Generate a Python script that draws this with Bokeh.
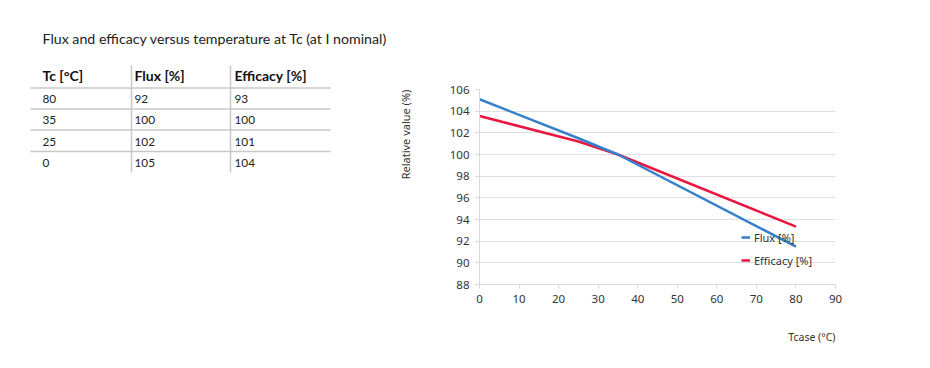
import math
from bokeh.plotting import figure
from bokeh.models import Range1d, Legend, LegendItem, Title, ColumnDataSource, FixedTicker
from bokeh.layouts import row, column
from bokeh.core.properties import value
from bokeh.embed import file_html
from bokeh.resources import INLINE

# ---- data ----
title_text = "Flux and efficacy versus temperature at Tc (at I nominal)"
table_header = ["Tc [°C]", "Flux [%]", "Efficacy [%]"]
table_tc = ["80", "35", "25", "0"]
table_flux = ["92", "100", "102", "105"]
table_eff = ["93", "100", "101", "104"]

tcase = [0, 25, 35, 80]
flux = [105.1, 101.5, 100, 91.5]
efficacy = [103.55, 101.2, 100, 93.35]
x_ticks = [0, 10, 20, 30, 40, 50, 60, 70, 80, 90]
y_ticks = [88, 90, 92, 94, 96, 98, 100, 102, 104, 106]

TABLE_FONT = "Lato"
CHART_FONT = "Noto Sans"

# ---- left: title + table (page-pixel coordinate frame) ----
LW, H = 418, 366
left = figure(width=LW, height=H, output_backend="svg", toolbar_location=None,
              x_range=Range1d(0, LW), y_range=Range1d(H, 0),
              min_border=0, outline_line_color=None)
left.axis.visible = False
left.grid.visible = False

left.text(x=[42], y=[38], text=[title_text], text_font=value(TABLE_FONT),
          text_font_size="14.2px", text_baseline="middle", text_color="#222222")

col_x = [42, 134, 234]
left.text(x=col_x, y=[75] * 3, text=table_header, text_font=value(TABLE_FONT),
          text_font_size="14px", text_font_style="bold", text_baseline="middle",
          text_color="#111111")
row_y = [98, 119, 141, 162]
for cx, col in zip(col_x, [table_tc, table_flux, table_eff]):
    left.text(x=[cx] * len(col), y=row_y, text=col, text_font=value(TABLE_FONT),
              text_font_size="11.8px", text_baseline="middle", text_color="#222222")

hl_y = [87.5, 108.5, 129.5, 151]
left.segment(x0=[30] * 4, x1=[330] * 4, y0=hl_y, y1=hl_y, line_color="#c8c8c8", line_width=1.5)
left.segment(x0=[131, 230], x1=[131, 230], y0=[65, 65], y1=[172, 172],
             line_color="#c8c8c8", line_width=1.5)

# y-axis label of chart
left.text(x=[405], y=[134], text=["Relative value (%)"], angle=math.pi / 2,
          text_font=value(CHART_FONT), text_font_size="11px", text_align="center",
          text_baseline="middle", text_color="#333333")

# ---- right: chart ----
RW = 922 - LW
p = figure(width=RW, height=H, output_backend="svg", toolbar_location=None,
           x_range=Range1d(0, 90), y_range=Range1d(88, 106),
           min_border_left=479 - LW, min_border_right=922 - 835,
           min_border_top=89, min_border_bottom=H - 286,
           outline_line_color=None)

src = ColumnDataSource(dict(t=tcase, flux=flux, eff=efficacy))
r_eff = p.line("t", "eff", source=src, line_color="#e8173f", line_width=2.5)
r_flux = p.line("t", "flux", source=src, line_color="#3580cc", line_width=2.5)

p.xaxis.ticker = FixedTicker(ticks=x_ticks)
p.yaxis.ticker = FixedTicker(ticks=y_ticks)
for ax in (p.xaxis, p.yaxis):
    ax.axis_line_color = "#d9d9d9"
    ax.major_tick_line_color = "#d9d9d9"
    ax.minor_tick_line_color = None
    ax.major_tick_in = 0
    ax.major_tick_out = 4
    ax.major_label_text_font = CHART_FONT
    ax.major_label_text_font_size = "11.5px"
    ax.major_label_text_color = "#333333"
p.xaxis.major_label_standoff = 6
p.yaxis.major_label_standoff = 6
p.xgrid.grid_line_color = None
p.ygrid.grid_line_color = "#e0e0e0"
p.ygrid.grid_line_width = 1

legend = Legend(items=[LegendItem(label="Flux [%]", renderers=[r_flux]),
                       LegendItem(label="Efficacy [%]", renderers=[r_eff])],
                location=(262, 14), orientation="vertical")
legend.background_fill_alpha = 0
legend.border_line_color = None
legend.padding = 0
legend.margin = 0
legend.spacing = 3
legend.glyph_width = 9
legend.glyph_height = 20
legend.label_height = 20
legend.label_standoff = 4
legend.label_text_font = CHART_FONT
legend.label_text_font_size = "11px"
legend.label_text_color = "#333333"
p.add_layout(legend, "center")

p.add_layout(Title(text="Tcase (°C)", align="right", text_font=CHART_FONT,
                   text_font_size="10.5px", text_font_style="normal",
                   text_color="#333333", standoff=45), "below")

layout = row(column(left), p)
open("out.html", "w").write(file_html(layout, INLINE))
